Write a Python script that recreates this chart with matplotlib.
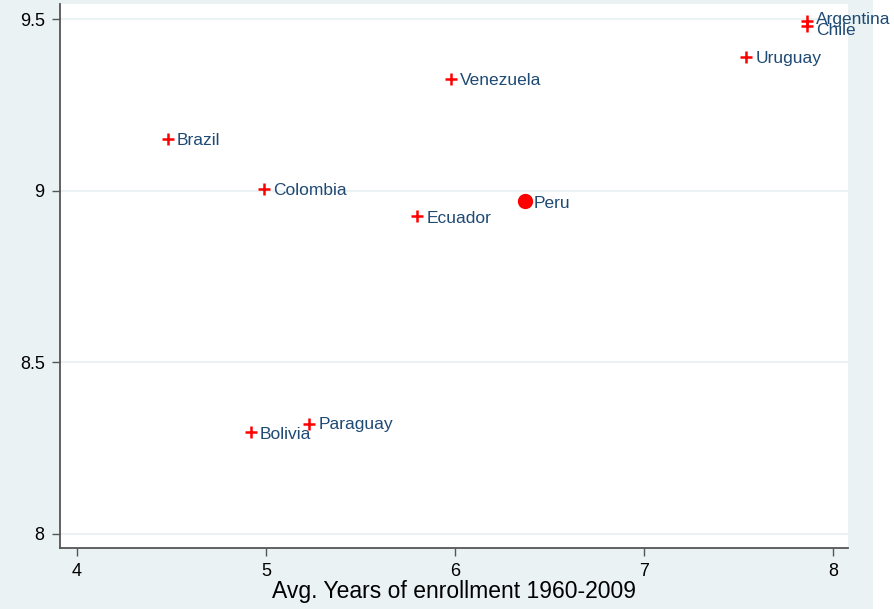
import matplotlib
matplotlib.use("Agg")
import matplotlib.pyplot as plt
from matplotlib.patches import Rectangle

# data
countries = ["Brazil", "Colombia", "Venezuela", "Ecuador", "Peru",
             "Argentina", "Chile", "Uruguay", "Bolivia", "Paraguay"]
enroll = [4.48, 4.99, 5.98, 5.80, 6.37, 7.86, 7.86, 7.54, 4.92, 5.23]
outcome = [9.151, 9.006, 9.326, 8.927, 8.971, 9.494, 9.480, 9.390, 8.297, 8.320]
label_dy = [-1, -1, -1, -2, -2, 1, -3, -1, -2, 0]  # label nudges in points

highlight = "Peru"

bg = "#eaf2f3"
navy = "#1f4a74"

plt.rcParams['font.family'] = ['Liberation Sans', 'DejaVu Sans']

fig = plt.figure(figsize=(8.94, 6.09), dpi=100, facecolor=bg)
fig.patches.append(Rectangle((873 / 894, 0), 1 - 873 / 894, 1, transform=fig.transFigure,
                             facecolor="white", edgecolor="none", zorder=-1))
ax = fig.add_axes([60 / 894, 61 / 609, 788 / 894, 544 / 609])
ax.set_facecolor("white")

ax.scatter(enroll, outcome, marker="+", s=80, color="red", linewidths=1.8, zorder=3)
for name, x, y, dy in zip(countries, enroll, outcome, label_dy):
    if name == highlight:
        ax.plot(x, y, "o", color="red", markersize=10, zorder=4)
    ax.annotate(name, (x, y), xytext=(6.5, dy), textcoords="offset points",
                ha="left", va="center", fontsize=12.5, color=navy, zorder=5,
                annotation_clip=False)

ax.set_xlim(3.91, 8.079)
ax.set_ylim(7.959, 9.544)
ax.set_xticks([4, 5, 6, 7, 8])
ax.set_xticklabels(["4", "5", "6", "7", "8"])
ax.set_yticks([8, 8.5, 9, 9.5])
ax.set_yticklabels(["8", "8.5", "9", "9.5"])
ax.yaxis.grid(True, color=bg, linewidth=1.5)
ax.set_axisbelow(True)

for side in ["top", "right"]:
    ax.spines[side].set_visible(False)
for side in ["left", "bottom"]:
    ax.spines[side].set_color("#555555")
    ax.spines[side].set_linewidth(1.3)
ax.tick_params(direction="out", length=6, width=1, color="#555555",
               labelsize=13, labelcolor="black", pad=5)

ax.set_xlabel("Avg. Years of enrollment 1960-2009", fontsize=16.5, labelpad=0)

fig.savefig("out.png", dpi=100, facecolor=bg)
